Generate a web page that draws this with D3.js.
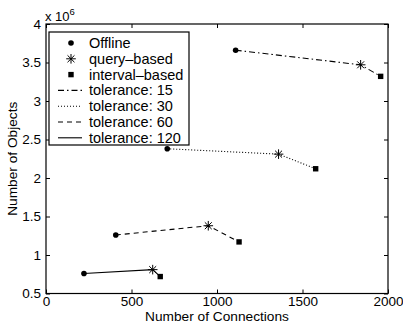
<!DOCTYPE html>
<html>
<head>
<meta charset="utf-8">
<script src="https://cdn.jsdelivr.net/npm/d3@7"></script>
<style>
  body { margin: 0; background: #fff; }
  svg { display: block; font-family: "Liberation Sans", Arial, sans-serif; }
</style>
</head>
<body>
<div id="chart"></div>
<script>
// data (y in units of 10^6)
const tolerances = [15, 30, 60, 120];
const offlineX  = [1109, 709, 408, 222];
const offlineY  = [3.66, 2.38, 1.26, 0.76];
const queryX    = [1840, 1360, 949, 624];
const queryY    = [3.47, 2.31, 1.38, 0.81];
const intervalX = [1957, 1577, 1129, 668];
const intervalY = [3.32, 2.12, 1.17, 0.72];
const dashes    = ['6,3,1.5,3', '1,2', '5,4', null];
const xTicks = [0, 500, 1000, 1500, 2000];
const yTicks = [0.5, 1, 1.5, 2, 2.5, 3, 3.5, 4];
const markerNames = ['Offline', 'query\u2013based', 'interval\u2013based'];

const W = 403, H = 324;
const m = { left: 46, right: 15, top: 24, bottom: 30.5 };

const svg = d3.select('#chart').append('svg')
  .attr('width', W)
  .attr('height', H);

const x = d3.scaleLinear().domain([0, 2000]).range([m.left, W - m.right]);
const y = d3.scaleLinear().domain([0.5, 4]).range([H - m.bottom, m.top]);

// frame
svg.append('rect')
  .attr('x', x(0)).attr('y', y(4))
  .attr('width', x(2000) - x(0)).attr('height', y(0.5) - y(4))
  .attr('fill', 'none').attr('stroke', '#000').attr('stroke-width', 1.2);

const styleAxis = (g, showText) => {
  g.select('.domain').remove();
  g.selectAll('line').attr('stroke', '#000');
  g.selectAll('text').attr('fill', '#000').style('font-size', '13.5px');
  if (!showText) g.selectAll('text').remove();
};

svg.append('g')
  .attr('transform', 'translate(0,' + y(0.5) + ')')
  .call(d3.axisBottom(x).tickValues(xTicks).tickFormat(d3.format('d')).tickSize(-4).tickPadding(3))
  .call(g => styleAxis(g, true));
svg.append('g')
  .attr('transform', 'translate(0,' + y(4) + ')')
  .call(d3.axisTop(x).tickValues(xTicks).tickSize(-4))
  .call(g => styleAxis(g, false));
svg.append('g')
  .attr('transform', 'translate(' + x(0) + ',0)')
  .call(d3.axisLeft(y).tickValues(yTicks).tickFormat(d => d).tickSize(-4).tickPadding(5))
  .call(g => styleAxis(g, true));
svg.append('g')
  .attr('transform', 'translate(' + x(2000) + ',0)')
  .call(d3.axisRight(y).tickValues(yTicks).tickSize(-4))
  .call(g => styleAxis(g, false));

// exponent
const expo = svg.append('text')
  .attr('x', x(0) - 1).attr('y', y(4) - 3)
  .style('font-size', '13px');
expo.append('tspan').text('x 10');
expo.append('tspan').attr('dy', -6).style('font-size', '9.5px').text('6');

// axis titles
svg.append('text')
  .attr('x', (x(0) + x(2000)) / 2).attr('y', H - 3)
  .attr('text-anchor', 'middle')
  .style('font-size', '13.7px')
  .text('Number of Connections');
svg.append('text')
  .attr('transform', 'translate(17,' + (y(0.5) + y(4)) / 2 + ') rotate(-90)')
  .attr('text-anchor', 'middle')
  .style('font-size', '13.7px')
  .text('Number of Objects');

// markers
const star = (g, cx, cy, r) => {
  const p = d3.path();
  p.moveTo(cx - r, cy); p.lineTo(cx + r, cy);
  p.moveTo(cx, cy - r); p.lineTo(cx, cy + r);
  const d = r * 0.72;
  p.moveTo(cx - d, cy - d); p.lineTo(cx + d, cy + d);
  p.moveTo(cx - d, cy + d); p.lineTo(cx + d, cy - d);
  g.append('path').attr('d', p.toString()).attr('stroke', '#000').attr('stroke-width', 1).attr('fill', 'none');
};
const drawMarker = (g, kind, cx, cy) => {
  if (kind === 0) {
    g.append('circle').attr('cx', cx).attr('cy', cy).attr('r', 2.8).attr('fill', '#000');
  } else if (kind === 1) {
    star(g, cx, cy, 4.8);
  } else {
    g.append('rect').attr('x', cx - 2.7).attr('y', cy - 2.7).attr('width', 5.4).attr('height', 5.4).attr('fill', '#000');
  }
};

const line = d3.line().x(d => x(d[0])).y(d => y(d[1]));
const plot = svg.append('g');
tolerances.forEach((t, i) => {
  const pts = [[offlineX[i], offlineY[i]], [queryX[i], queryY[i]], [intervalX[i], intervalY[i]]];
  plot.append('path')
    .attr('d', line(pts))
    .attr('fill', 'none')
    .attr('stroke', '#000')
    .attr('stroke-width', 1.1)
    .attr('stroke-dasharray', dashes[i]);
  pts.forEach((p, k) => drawMarker(plot, k, x(p[0]), y(p[1])));
});

// legend
const lg = svg.append('g');
const lx = 49, ly = 32, lw = 140, lh = 113, row = 15.8;
lg.append('rect')
  .attr('x', lx).attr('y', ly).attr('width', lw).attr('height', lh)
  .attr('fill', '#fff').attr('stroke', '#000').attr('stroke-width', 1.2);
const labels = markerNames.concat(tolerances.map(t => 'tolerance: ' + t));
labels.forEach((lab, i) => {
  const cy = ly + 11 + i * row;
  if (i < 3) {
    drawMarker(lg, i, lx + 22, cy);
  } else {
    lg.append('line')
      .attr('x1', lx + 9).attr('x2', lx + 33).attr('y1', cy).attr('y2', cy)
      .attr('stroke', '#000').attr('stroke-width', 1.1)
      .attr('stroke-dasharray', dashes[i - 3]);
  }
  lg.append('text')
    .attr('x', lx + 40).attr('y', cy + 5)
    .style('font-size', '14.5px')
    .text(lab);
});
</script>
</body>
</html>
